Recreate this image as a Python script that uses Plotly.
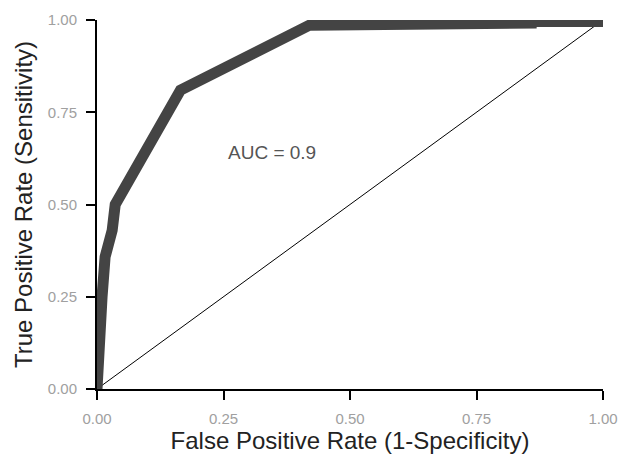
import plotly.graph_objects as go

# ROC curve points (False Positive Rate, True Positive Rate)
fpr = [0.0, 0.002, 0.004, 0.010, 0.016, 0.030, 0.036, 0.165, 0.420, 0.566, 0.566, 0.858, 0.858, 1.0]
tpr = [0.0, 0.105, 0.120, 0.250, 0.358, 0.430, 0.500, 0.810, 0.986, 0.986, 0.992, 0.992, 0.996, 0.996]

ref_x = [0.0, 1.0]
ref_y = [0.0, 1.0]

tick_vals = [0.0, 0.25, 0.5, 0.75, 1.0]
tick_text = ["0.00", "0.25", "0.50", "0.75", "1.00"]

auc_label = "AUC = 0.9"
auc_pos = (0.346, 0.642)

fig = go.Figure()
fig.add_trace(go.Scatter(x=ref_x, y=ref_y, mode="lines",
                         line=dict(color="black", width=1), hoverinfo="skip"))
fig.add_trace(go.Scatter(x=fpr, y=tpr, mode="lines",
                         line=dict(color="#444444", width=11)))

fig.add_annotation(x=auc_pos[0], y=auc_pos[1], text=auc_label, showarrow=False,
                   font=dict(family="Liberation Sans, Arial", size=19, color="#555555"))

axis_common = dict(
    range=[0, 1], tickvals=tick_vals, ticktext=tick_text, automargin=False,
    showgrid=False, zeroline=False, showline=True, linecolor="black", linewidth=2,
    ticks="outside", ticklen=9, tickwidth=2, tickcolor="black",
    tickfont=dict(family="Liberation Sans, Arial", size=15, color="#a0a0a0"),
    ticklabelstandoff=6,
)

fig.update_layout(
    width=622, height=446,
    margin=dict(l=89, r=27, t=12, b=65),
    plot_bgcolor="white", paper_bgcolor="white",
    showlegend=False,
    xaxis=dict(**axis_common,
               title=dict(text="False Positive Rate (1-Specificity)", standoff=5,
                          font=dict(family="Liberation Sans, Arial", size=24, color="#222222"))),
    yaxis=dict(**axis_common,
               title=dict(text="True Positive Rate (Sensitivity)", standoff=8,
                          font=dict(family="Liberation Sans, Arial", size=24, color="#222222"))),
)

fig.write_html("out.html")
